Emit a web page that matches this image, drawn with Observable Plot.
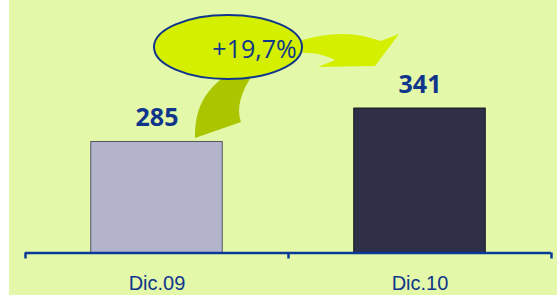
<!DOCTYPE html>
<html>
<head>
<meta charset="utf-8">
<script src="https://cdn.jsdelivr.net/npm/d3@7"></script>
<script src="https://cdn.jsdelivr.net/npm/@observablehq/plot@0.6"></script>
<style>
  html, body { margin: 0; padding: 0; background: #fff; }
  #chart svg { display: block; }
</style>
</head>
<body>
<div id="chart"></div>
<script>
// ---- data ----
const categories = ["Dic.09", "Dic.10"];
const values = [285, 341];
const barColors = ["#b3b3cb", "#2f2f47"];
const barStrokes = ["#555560", "#15151f"];
const growthLabel = ["+19,7%"];

// y scale floor as drawn in the original
const yMin = 99;
const yMax = 522;

// category boundaries (axis ticks)
const tickBounds = [-0.5, 0.5, 1.5];

// annotation geometry in data units: [x (category index units), y (value units)]
const ellipseCenter = [0.2719, 443.3];
const ellipseRadii = [0.2814, 53.6];
const labelPos = [0.3707, 439.1];
const arrowUp = [
  ["M", [0.1464, 290.8]],
  ["C", [0.1464, 329.4], [0.1654, 359.5], [0.2414, 388.0]],
  ["L", [0.2338, 398.0]],
  ["L", [0.3669, 398.0]],
  ["C", [0.3213, 367.9], [0.3023, 341.1], [0.3213, 317.6]],
  ["Z"]
];
const arrowRight = [
  ["M", [0.5456, 453.3]],
  ["C", [0.6141, 463.4], [0.7167, 470.1], [0.8004, 460.0]],
  ["L", [0.8536, 453.3]],
  ["L", [0.9221, 465.0]],
  ["L", [0.8308, 411.4]],
  ["L", [0.6141, 409.8]],
  ["L", [0.6787, 421.5]],
  ["C", [0.6407, 429.9], [0.5913, 434.9], [0.5456, 433.2]],
  ["Z"]
];

const blue = "#10368c";
const axisBlue = "#0a3a98";
const bg = "#e3f8a9";

const bars = categories.map((c, i) => ({cat: c, i, value: values[i], fill: barColors[i], stroke: barStrokes[i]}));

function pathFrom(cmds, x, y) {
  return cmds.map(([c, ...pts]) => c + pts.map(([u, v]) => `${x(u)},${y(v)}`).join(" ")).join(" ");
}

function annotation(index, scales) {
  const x = scales.x, y = scales.y;
  const g = d3.create("svg:g");
  g.append("path").attr("d", pathFrom(arrowUp, x, y)).attr("fill", "#abc600");
  g.append("path").attr("d", pathFrom(arrowRight, x, y)).attr("fill", "#d4f000");
  const cx = x(ellipseCenter[0]), cy = y(ellipseCenter[1]);
  g.append("ellipse")
    .attr("cx", cx).attr("cy", cy)
    .attr("rx", x(ellipseCenter[0] + ellipseRadii[0]) - cx)
    .attr("ry", cy - y(ellipseCenter[1] + ellipseRadii[1]))
    .attr("fill", "#d4f000").attr("stroke", blue).attr("stroke-width", 2);
  return g.node();
}

const chart = Plot.plot({
  width: 557,
  height: 295,
  marginLeft: 25,
  marginRight: 6,
  marginTop: 0,
  marginBottom: 42.5,
  x: {domain: [-0.5, 1.5], axis: null},
  y: {domain: [yMin, yMax], axis: null},
  style: {background: `linear-gradient(to right, #ffffff 9px, ${bg} 9px)`},
  marks: [
    Plot.rectY(bars, {x1: d => d.i - 0.25, x2: d => d.i + 0.25, y1: yMin, y2: "value", fill: "fill", stroke: "stroke", strokeWidth: 1}),
    Plot.ruleY([yMin], {stroke: axisBlue, strokeWidth: 2.5}),
    Plot.ruleX(tickBounds, {x: d => d, y1: yMin, y2: yMin - 10, stroke: axisBlue, strokeWidth: 2.5}),
    Plot.text(bars, {x: "i", y: yMin, text: "cat", dy: 36.8, lineAnchor: "bottom", fill: blue, fontSize: 20, fontFamily: "Liberation Sans, Arial, sans-serif"}),
    Plot.text(bars, {x: "i", y: "value", text: d => String(d.value), dy: -16, lineAnchor: "bottom", fill: blue, fontSize: 25, fontWeight: "bold", fontFamily: "Open Sans, sans-serif"}),
    annotation,
    Plot.text(growthLabel, {x: labelPos[0], y: labelPos[1], text: d => d, fill: blue, fontSize: 25, fontFamily: "Open Sans, sans-serif", lineAnchor: "middle"})
  ]
});
document.getElementById("chart").append(chart);
</script>
</body>
</html>
